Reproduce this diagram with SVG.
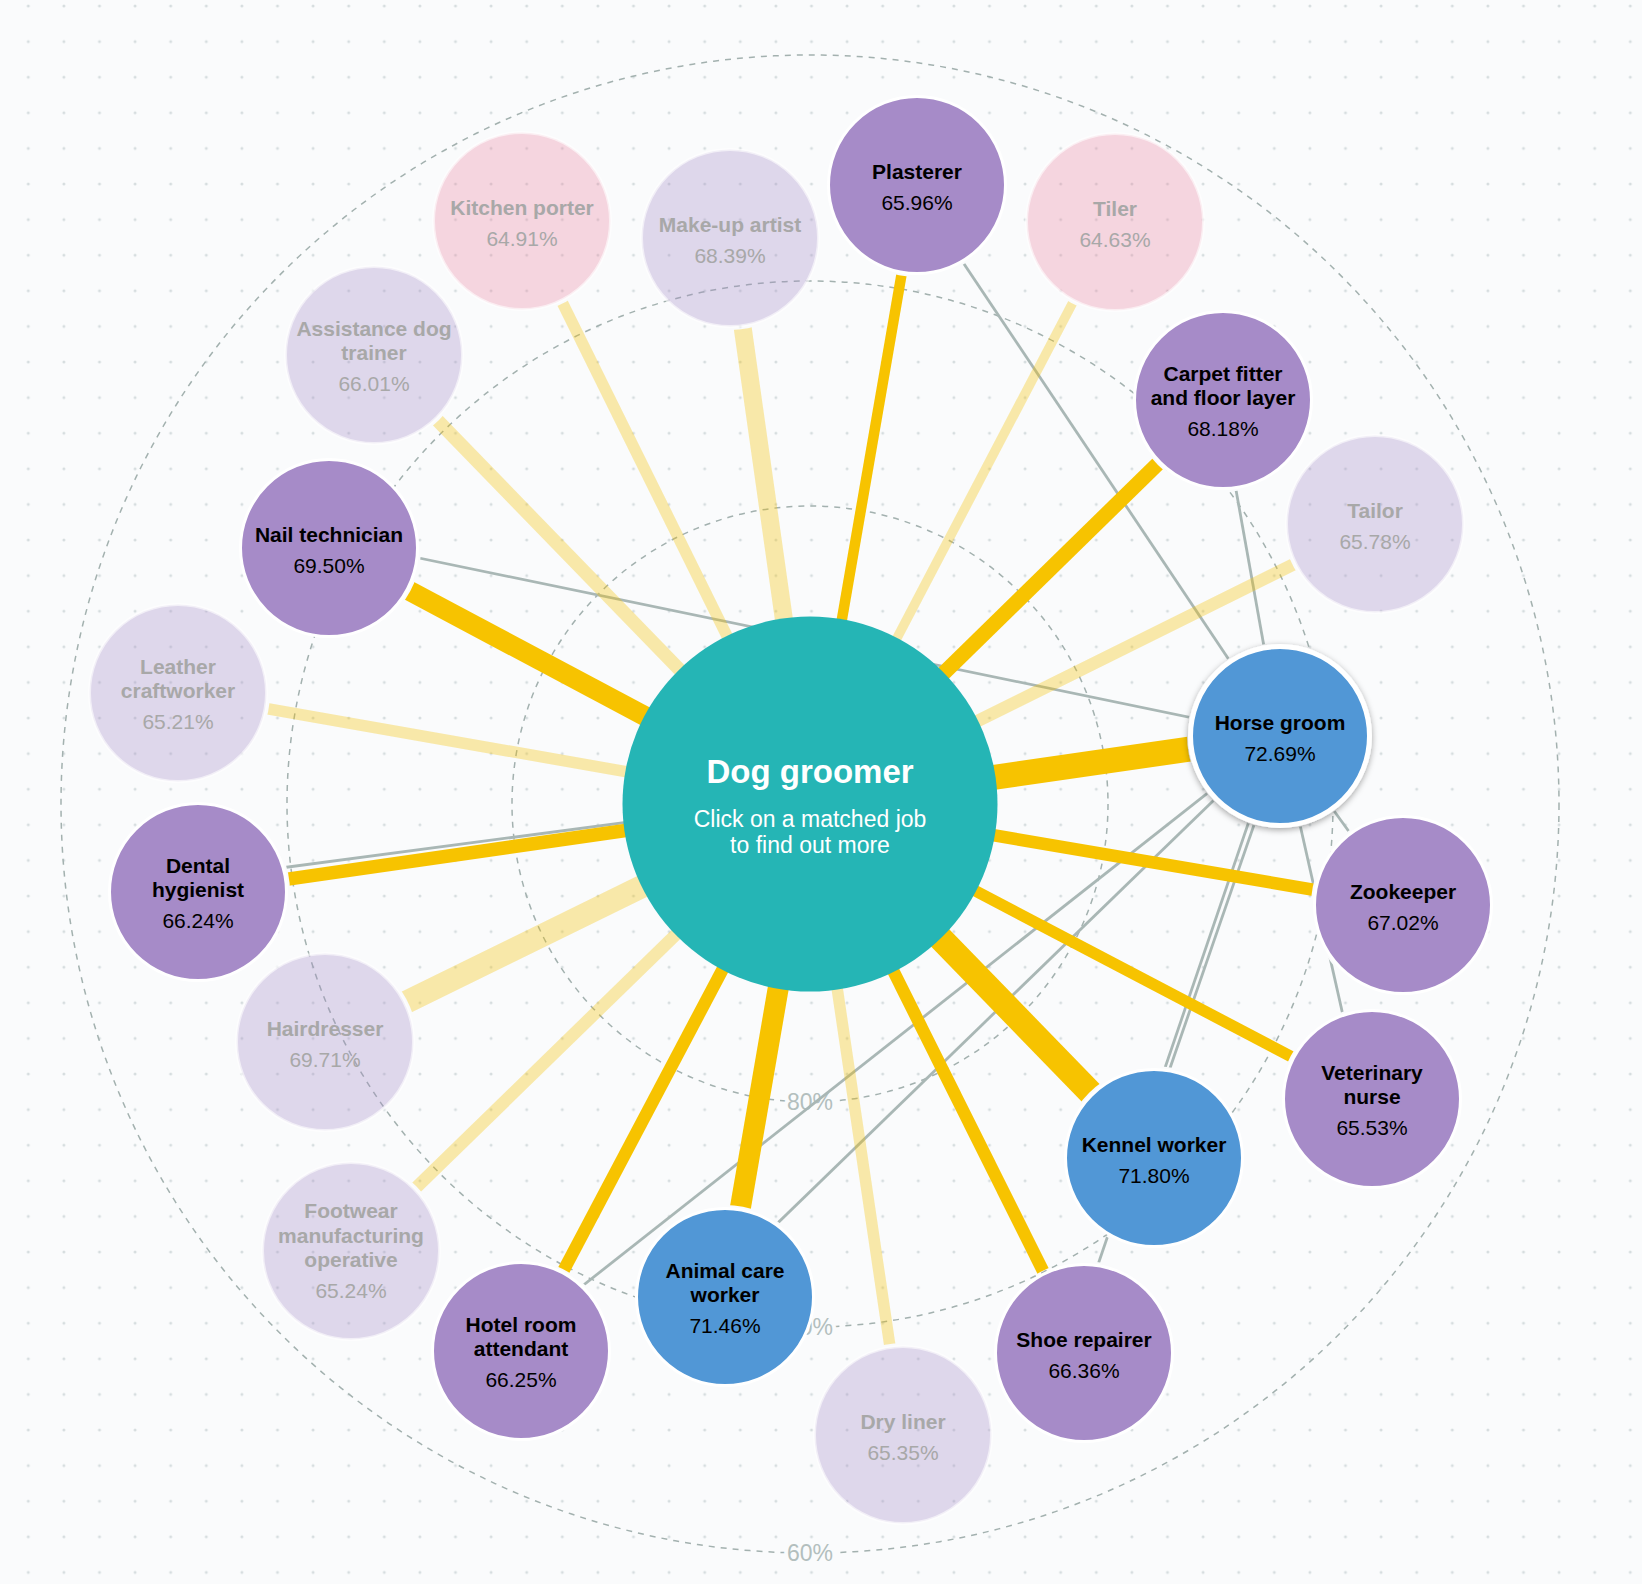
<svg xmlns="http://www.w3.org/2000/svg" width="1642" height="1584" viewBox="0 0 1642 1584">
<style>
.ring{fill:none;stroke:#A3B1AF;stroke-width:1.5;stroke-dasharray:6 6}
.rl{font-family:"Liberation Sans",Arial,sans-serif;font-size:23px;fill:#B3BFBE;text-anchor:middle;stroke:#FAFBFC;stroke-width:8px;paint-order:stroke}
.gl{stroke:#A9B7B5;stroke-width:2.8;fill:none}
.ys{stroke:#F7C300;fill:none}
.yp{stroke:#F7C300;stroke-opacity:0.33;fill:none}
.node circle{stroke:#FFFFFF;stroke-width:3}
.purple circle{fill:#A68BC8}
.blue circle{fill:#5197D6}
.faded circle{fill:#A68BC8;fill-opacity:0.32;stroke-opacity:0.6}
.pink circle{fill:#EB7E9A;fill-opacity:0.3;stroke-opacity:0.6}
.node text{font-family:"Liberation Sans",Arial,sans-serif;font-size:21px;text-anchor:middle;fill:#000000}
.node .t{font-weight:bold}
.faded text,.pink text{fill:#A8A8A8}
.center text{font-family:"Liberation Sans",Arial,sans-serif;fill:#FFFFFF;text-anchor:middle}
</style>
<defs>
<pattern id="dots" patternUnits="userSpaceOnUse" x="10.5" y="-11.8" width="35.6" height="35.6">
<circle cx="17.8" cy="17.8" r="1.5" fill="#D6DDDF"/>
</pattern>
<filter id="shadow" x="-20%" y="-20%" width="140%" height="140%">
<feDropShadow dx="0" dy="2" stdDeviation="3" flood-color="#000000" flood-opacity="0.35"/>
</filter>
<mask id="nodeMask" maskUnits="userSpaceOnUse" x="0" y="0" width="1642" height="1584">
<rect x="0" y="0" width="1642" height="1584" fill="#FFFFFF"/>
<g fill="#000000">
<circle cx="917" cy="185" r="92"/>
<circle cx="1115" cy="222" r="92"/>
<circle cx="522" cy="221" r="92"/>
<circle cx="730" cy="238" r="92"/>
<circle cx="374" cy="355" r="92"/>
<circle cx="1223" cy="400" r="92"/>
<circle cx="1375" cy="524" r="92"/>
<circle cx="329" cy="548" r="92"/>
<circle cx="178" cy="693" r="92"/>
<circle cx="1280" cy="736" r="93"/>
<circle cx="198" cy="892" r="92"/>
<circle cx="1403" cy="905" r="92"/>
<circle cx="325" cy="1042" r="92"/>
<circle cx="1372" cy="1099" r="92"/>
<circle cx="1154" cy="1158" r="92"/>
<circle cx="351" cy="1251" r="92"/>
<circle cx="725" cy="1297" r="92"/>
<circle cx="521" cy="1351" r="92"/>
<circle cx="1084" cy="1353" r="92"/>
<circle cx="903" cy="1435" r="92"/>
</g>
</mask>
</defs>

<rect x="0" y="0" width="1642" height="1584" fill="#FAFBFC"/>
<rect x="0" y="0" width="1642" height="1584" fill="url(#dots)"/>

<g id="rings">
<circle class="ring" cx="810" cy="804" r="298"/>
<circle class="ring" cx="810" cy="804" r="523"/>
<circle class="ring" cx="810" cy="804" r="749"/>
<text class="rl" x="810" y="1110">80%</text>
<text class="rl" x="810" y="1335">70%</text>
<text class="rl" x="810" y="1561">60%</text>
</g>

<g id="connectors" mask="url(#nodeMask)">
<g id="horse-links">
<line class="gl" x1="1280" y1="736" x2="948" y2="240"/>
<line class="gl" x1="1280" y1="736" x2="1231" y2="462"/>
<line class="gl" x1="1280" y1="736" x2="390" y2="552"/>
<line class="gl" x1="1280" y1="736" x2="258" y2="871"/>
<line class="gl" x1="1280" y1="736" x2="562" y2="1302"/>
<line class="gl" x1="1280" y1="736" x2="756" y2="1244"/>
<line class="gl" x1="1284" y1="738" x2="1159" y2="1100"/>
<line class="gl" x1="1278" y1="736" x2="1088" y2="1294"/>
<line class="gl" x1="1280" y1="736" x2="1363" y2="851"/>
<line class="gl" x1="1280" y1="736" x2="1349" y2="1042"/>
</g>
<g id="match-links">
<line class="ys" x1="810" y1="804" x2="917" y2="185" stroke-width="10.5"/>
<line class="yp" x1="810" y1="804" x2="1115" y2="222" stroke-width="9.5"/>
<line class="yp" x1="810" y1="804" x2="522" y2="221" stroke-width="11.5"/>
<line class="yp" x1="810" y1="804" x2="730" y2="238" stroke-width="18"/>
<line class="yp" x1="810" y1="804" x2="374" y2="355" stroke-width="13.5"/>
<line class="ys" x1="810" y1="804" x2="1223" y2="400" stroke-width="15"/>
<line class="yp" x1="810" y1="804" x2="1375" y2="524" stroke-width="12.5"/>
<line class="ys" x1="810" y1="804" x2="329" y2="548" stroke-width="20"/>
<line class="yp" x1="810" y1="804" x2="178" y2="693" stroke-width="11.5"/>
<line class="ys" x1="810" y1="804" x2="1280" y2="736" stroke-width="25"/>
<line class="ys" x1="810" y1="804" x2="198" y2="892" stroke-width="13.5"/>
<line class="ys" x1="810" y1="804" x2="1403" y2="905" stroke-width="12.5"/>
<line class="yp" x1="810" y1="804" x2="325" y2="1042" stroke-width="23"/>
<line class="ys" x1="810" y1="804" x2="1372" y2="1099" stroke-width="11.5"/>
<line class="ys" x1="810" y1="804" x2="1154" y2="1158" stroke-width="25"/>
<line class="yp" x1="810" y1="804" x2="351" y2="1251" stroke-width="12.5"/>
<line class="ys" x1="810" y1="804" x2="725" y2="1297" stroke-width="21"/>
<line class="ys" x1="810" y1="804" x2="521" y2="1351" stroke-width="12.5"/>
<line class="ys" x1="810" y1="804" x2="1084" y2="1353" stroke-width="12.5"/>
<line class="yp" x1="810" y1="804" x2="903" y2="1435" stroke-width="11.5"/>
</g>
</g>

<g id="center" class="center">
<circle cx="810" cy="804" r="187.5" fill="#25B5B5"/>
<text x="810" y="783" font-size="33" font-weight="bold">Dog groomer</text>
<text x="810" y="827" font-size="23">Click on a matched job</text>
<text x="810" y="853" font-size="23">to find out more</text>
</g>

<g id="node-plasterer" class="node purple" transform="translate(917,185)">
<circle r="88.5"/><text class="t" y="-6">Plasterer</text><text class="p" y="25">65.96%</text></g>
<g id="node-tiler" class="node pink" transform="translate(1115,222)">
<circle r="88.5"/><text class="t" y="-6">Tiler</text><text class="p" y="25">64.63%</text></g>
<g id="node-kitchen-porter" class="node pink" transform="translate(522,221)">
<circle r="88.5"/><text class="t" y="-6">Kitchen porter</text><text class="p" y="25">64.91%</text></g>
<g id="node-make-up-artist" class="node faded" transform="translate(730,238)">
<circle r="88.5"/><text class="t" y="-6">Make-up artist</text><text class="p" y="25">68.39%</text></g>
<g id="node-assistance-dog-trainer" class="node faded" transform="translate(374,355)">
<circle r="88.5"/><text class="t" y="-19.5">Assistance dog</text><text class="t" y="5">trainer</text><text class="p" y="36">66.01%</text></g>
<g id="node-carpet-fitter" class="node purple" transform="translate(1223,400)">
<circle r="88.5"/><text class="t" y="-19.5">Carpet fitter</text><text class="t" y="5">and floor layer</text><text class="p" y="36">68.18%</text></g>
<g id="node-tailor" class="node faded" transform="translate(1375,524)">
<circle r="88.5"/><text class="t" y="-6">Tailor</text><text class="p" y="25">65.78%</text></g>
<g id="node-nail-technician" class="node purple" transform="translate(329,548)">
<circle r="88.5"/><text class="t" y="-6">Nail technician</text><text class="p" y="25">69.50%</text></g>
<g id="node-leather-craftworker" class="node faded" transform="translate(178,693)">
<circle r="88.5"/><text class="t" y="-19.5">Leather</text><text class="t" y="5">craftworker</text><text class="p" y="36">65.21%</text></g>
<g id="node-dental-hygienist" class="node purple" transform="translate(198,892)">
<circle r="88.5"/><text class="t" y="-19.5">Dental</text><text class="t" y="5">hygienist</text><text class="p" y="36">66.24%</text></g>
<g id="node-zookeeper" class="node purple" transform="translate(1403,905)">
<circle r="88.5"/><text class="t" y="-6">Zookeeper</text><text class="p" y="25">67.02%</text></g>
<g id="node-hairdresser" class="node faded" transform="translate(325,1042)">
<circle r="88.5"/><text class="t" y="-6">Hairdresser</text><text class="p" y="25">69.71%</text></g>
<g id="node-veterinary-nurse" class="node purple" transform="translate(1372,1099)">
<circle r="88.5"/><text class="t" y="-19.5">Veterinary</text><text class="t" y="5">nurse</text><text class="p" y="36">65.53%</text></g>
<g id="node-kennel-worker" class="node blue" transform="translate(1154,1158)">
<circle r="88.5"/><text class="t" y="-6">Kennel worker</text><text class="p" y="25">71.80%</text></g>
<g id="node-footwear" class="node faded" transform="translate(351,1251)">
<circle r="88.5"/><text class="t" y="-33">Footwear</text><text class="t" y="-8.5">manufacturing</text><text class="t" y="16">operative</text><text class="p" y="47">65.24%</text></g>
<g id="node-animal-care-worker" class="node blue" transform="translate(725,1297)">
<circle r="88.5"/><text class="t" y="-19.5">Animal care</text><text class="t" y="5">worker</text><text class="p" y="36">71.46%</text></g>
<g id="node-hotel-room-attendant" class="node purple" transform="translate(521,1351)">
<circle r="88.5"/><text class="t" y="-19.5">Hotel room</text><text class="t" y="5">attendant</text><text class="p" y="36">66.25%</text></g>
<g id="node-shoe-repairer" class="node purple" transform="translate(1084,1353)">
<circle r="88.5"/><text class="t" y="-6">Shoe repairer</text><text class="p" y="25">66.36%</text></g>
<g id="node-dry-liner" class="node faded" transform="translate(903,1435)">
<circle r="88.5"/><text class="t" y="-6">Dry liner</text><text class="p" y="25">65.35%</text></g>
<g id="node-horse-groom" class="node blue" transform="translate(1280,736)">
<circle r="89.5" style="stroke-width:5" filter="url(#shadow)"/><text class="t" y="-6">Horse groom</text><text class="p" y="25">72.69%</text></g>
</svg>
